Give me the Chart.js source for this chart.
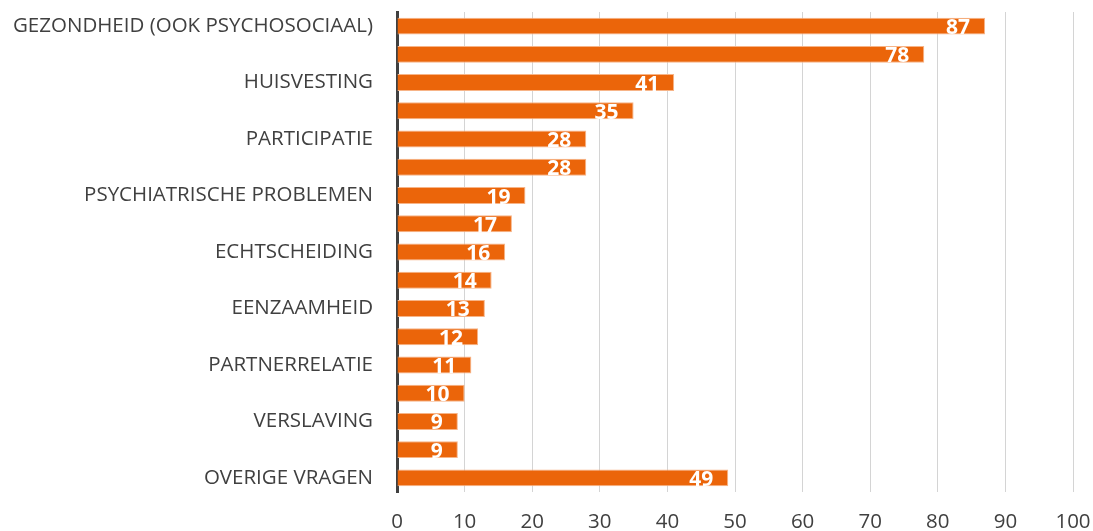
<!DOCTYPE html>
<html>
<head>
<meta charset="utf-8">
<script src="https://cdn.jsdelivr.net/npm/chart.js@4/dist/chart.umd.min.js"></script>
<style>
  html, body { margin: 0; padding: 0; background: #fff; }
  #wrap { width: 1093px; height: 531px; }
</style>
</head>
<body>
<div id="wrap"><canvas id="bar-chart" width="1093" height="531"></canvas></div>
<script>
  // categories (only every other label is printed in the original)
  const categories = [
    'GEZONDHEID (OOK PSYCHOSOCIAAL)', '',
    'HUISVESTING', '',
    'PARTICIPATIE', '',
    'PSYCHIATRISCHE PROBLEMEN', '',
    'ECHTSCHEIDING', '',
    'EENZAAMHEID', '',
    'PARTNERRELATIE', '',
    'VERSLAVING', '',
    'OVERIGE VRAGEN',
  ];
  const counts = [87, 78, 41, 35, 28, 28, 19, 17, 16, 14, 13, 12, 11, 10, 9, 9, 49];
  const xTicks = [0, 10, 20, 30, 40, 50, 60, 70, 80, 90, 100];

  const FONT = "'Open Sans', 'Liberation Sans', sans-serif";

  // white value labels at the end of each bar
  const valueLabels = {
    id: 'valueLabels',
    afterDatasetsDraw(chart) {
      const ctx = chart.ctx;
      const meta = chart.getDatasetMeta(0);
      ctx.save();
      ctx.fillStyle = '#ffffff';
      ctx.font = 'bold 21px ' + FONT;
      ctx.textAlign = 'right';
      ctx.textBaseline = 'middle';
      meta.data.forEach((bar, i) => {
        ctx.fillText(String(counts[i]), bar.x - 15, bar.y + 2);
      });
      ctx.restore();
    },
  };

  const barCtx = document.getElementById('bar-chart').getContext('2d');

  new Chart(barCtx, {
    type: 'bar',
    data: {
      labels: categories,
      datasets: [{
        data               : counts,
        backgroundColor    : '#EB650A',
        borderColor        : '#F7B487',
        borderWidth        : 1,
        barPercentage      : 0.6,
        categoryPercentage : 1,
      }],
    },
    options: {
      indexAxis: 'y',
      responsive: false,
      animation: false,
      layout: { padding: { top: 12, right: 20, bottom: 0, left: 0 } },
      plugins: {
        legend: { display: false },
        tooltip: { enabled: false },
      },
      scales: {
        x: {
          min: 0,
          max: 100,
          afterBuildTicks: (scale) => { scale.ticks = xTicks.map(v => ({ value: v })); },
          afterFit: (scale) => {
            scale.height = 39;
            scale.paddingLeft = 0;
            scale.paddingRight = 0;
          },
          grid: { color: '#d4d4d4', drawTicks: false },
          border: { display: false },
          ticks: {
            color: '#404040',
            padding: 18,
            font: { family: FONT, size: 20.5 },
          },
        },
        y: {
          afterFit: (scale) => {
            scale.width = 397;
            scale.paddingTop = 0;
            scale.paddingBottom = 0;
          },
          grid: { display: false },
          border: { display: true, color: '#404040', width: 3 },
          ticks: {
            color: '#404040',
            padding: 16,
            autoSkip: false,
            font: { family: FONT, size: 20.5 },
          },
        },
      },
    },
    plugins: [valueLabels],
  });
</script>
</body>
</html>
